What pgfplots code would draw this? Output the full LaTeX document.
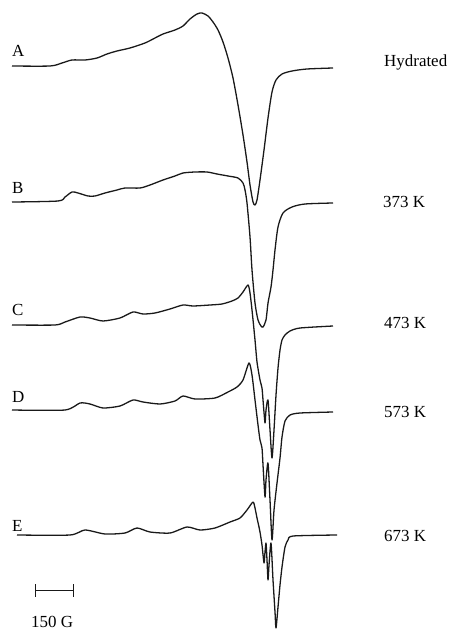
\documentclass[border=0pt]{standalone}
\usepackage{pgfplots}
\pgfplotsset{compat=1.18}
\usepackage{fontspec}
\setmainfont{Liberation Serif}

\tikzset{lbl/.style={font=\fontsize{17}{20}\selectfont, inner sep=0pt, anchor=base west}}

\begin{document}
\begin{tikzpicture}
\begin{axis}[
  width=452bp, height=630bp, scale only axis,
  xmin=0, xmax=452, ymin=0, ymax=630, y dir=reverse,
  enlargelimits=false, axis lines=none, ticks=none, clip=false,
  every axis plot/.append style={black!90, line width=1.3pt, line join=round},
]
% frame of the page
\addplot[draw=none] coordinates {(0,0) (452,630)};

% A: hydrated
\addplot[smooth, tension=0.45] coordinates {
(12,66) (50,66) (62,63) (72,60) (85,60) (97,58) (107,54) (117,51) (130,48)
(145,43) (155,38) (163,34) (175,30) (183,26) (190,19) (197,14) (202,13)
(208,16) (213,22) (218,30) (223,42) (228,58) (233,78) (238,105) (243,135)
(247,162) (250,185) (253,202) (255,205) (257,200) (260,180) (264,150)
(268,118) (272,92) (276,80) (282,74) (292,71) (307,69) (333,68)};

% B: 373 K
\addplot[smooth, tension=0.45] coordinates {
(12,202) (58,201) (65,197) (72,192) (78,193) (88,196) (95,196) (105,193)
(117,190) (125,188) (140,188) (150,185) (163,180) (175,176) (183,173)
(195,172) (207,172) (217,174) (228,176) (238,178) (243,183) (245,190)
(247,203) (250,237) (252,270) (255,303) (258,320) (261,326) (263,327)
(266,320) (268,303) (271,287) (273,270) (275,250) (278,227) (283,213)
(292,207) (305,204) (333,203)};

% C: 473 K
\addplot[smooth, tension=0.4] coordinates {
(12,325) (55,325) (65,322) (80,317) (90,318) (103,321) (120,318) (133,312)
(143,314) (155,313) (170,309) (183,305) (193,306) (210,305) (222,304)
(232,301) (238,298) (243,292) (248,285) (250,293) (252,310) (255,340)
(257,362) (260,380) (262,388) (263,400) (265,423) (266,410) (268,400)
(270,430) (272,458) (274,430) (276,395) (278,368) (280,350) (282,340)
(285,335) (290,331) (300,328) (333,326)};

% D: 573 K
\addplot[smooth, tension=0.4] coordinates {
(12,410) (65,410) (80,403) (90,404) (103,408) (120,406) (133,400) (143,402)
(160,404) (175,401) (183,396) (195,399) (215,398) (228,392) (237,387)
(243,380) (249,363) (252,375) (255,400) (258,425) (260,440) (262,448)
(263,465) (265,497) (266,480) (268,463) (270,500) (272,540) (274,510)
(277,483) (280,458) (282,437) (285,421) (290,415) (300,413) (333,412)};

% E: 673 K
\addplot[smooth, tension=0.4] coordinates {
(17,535) (70,535) (85,530) (105,534) (125,533) (137,528) (150,532)
(170,533) (187,527) (200,530) (215,528) (230,522) (240,518) (247,510)
(253,502) (255,508) (257,518) (259,527) (260,532) (262,545) (264,563)
(265,552) (266,543) (267,560) (268,580) (269,565) (271,543) (273,580)
(275,612) (276,628) (278,607) (280,585) (282,567) (285,547) (288,540)
(293,536) (337,535)};

% 150 G scale bar
\addplot[line width=1pt] coordinates {(35,590) (73,590)};
\addplot[line width=1pt] coordinates {(35,584) (35,597)};
\addplot[line width=1pt] coordinates {(73,584) (73,597)};

% trace letters
\node[lbl] at (axis cs:12,57) {A};
\node[lbl] at (axis cs:12,193) {B};
\node[lbl] at (axis cs:12,315) {C};
\node[lbl] at (axis cs:12,402) {D};
\node[lbl] at (axis cs:12,531) {E};

% treatment labels
\node[lbl] at (axis cs:384,67) {Hydrated};
\node[lbl] at (axis cs:383,207) {373 K};
\node[lbl] at (axis cs:384,328) {473 K};
\node[lbl] at (axis cs:384,417) {573 K};
\node[lbl] at (axis cs:384,541) {673 K};

\node[lbl] at (axis cs:31,627) {150 G};
\end{axis}
\end{tikzpicture}
\end{document}
